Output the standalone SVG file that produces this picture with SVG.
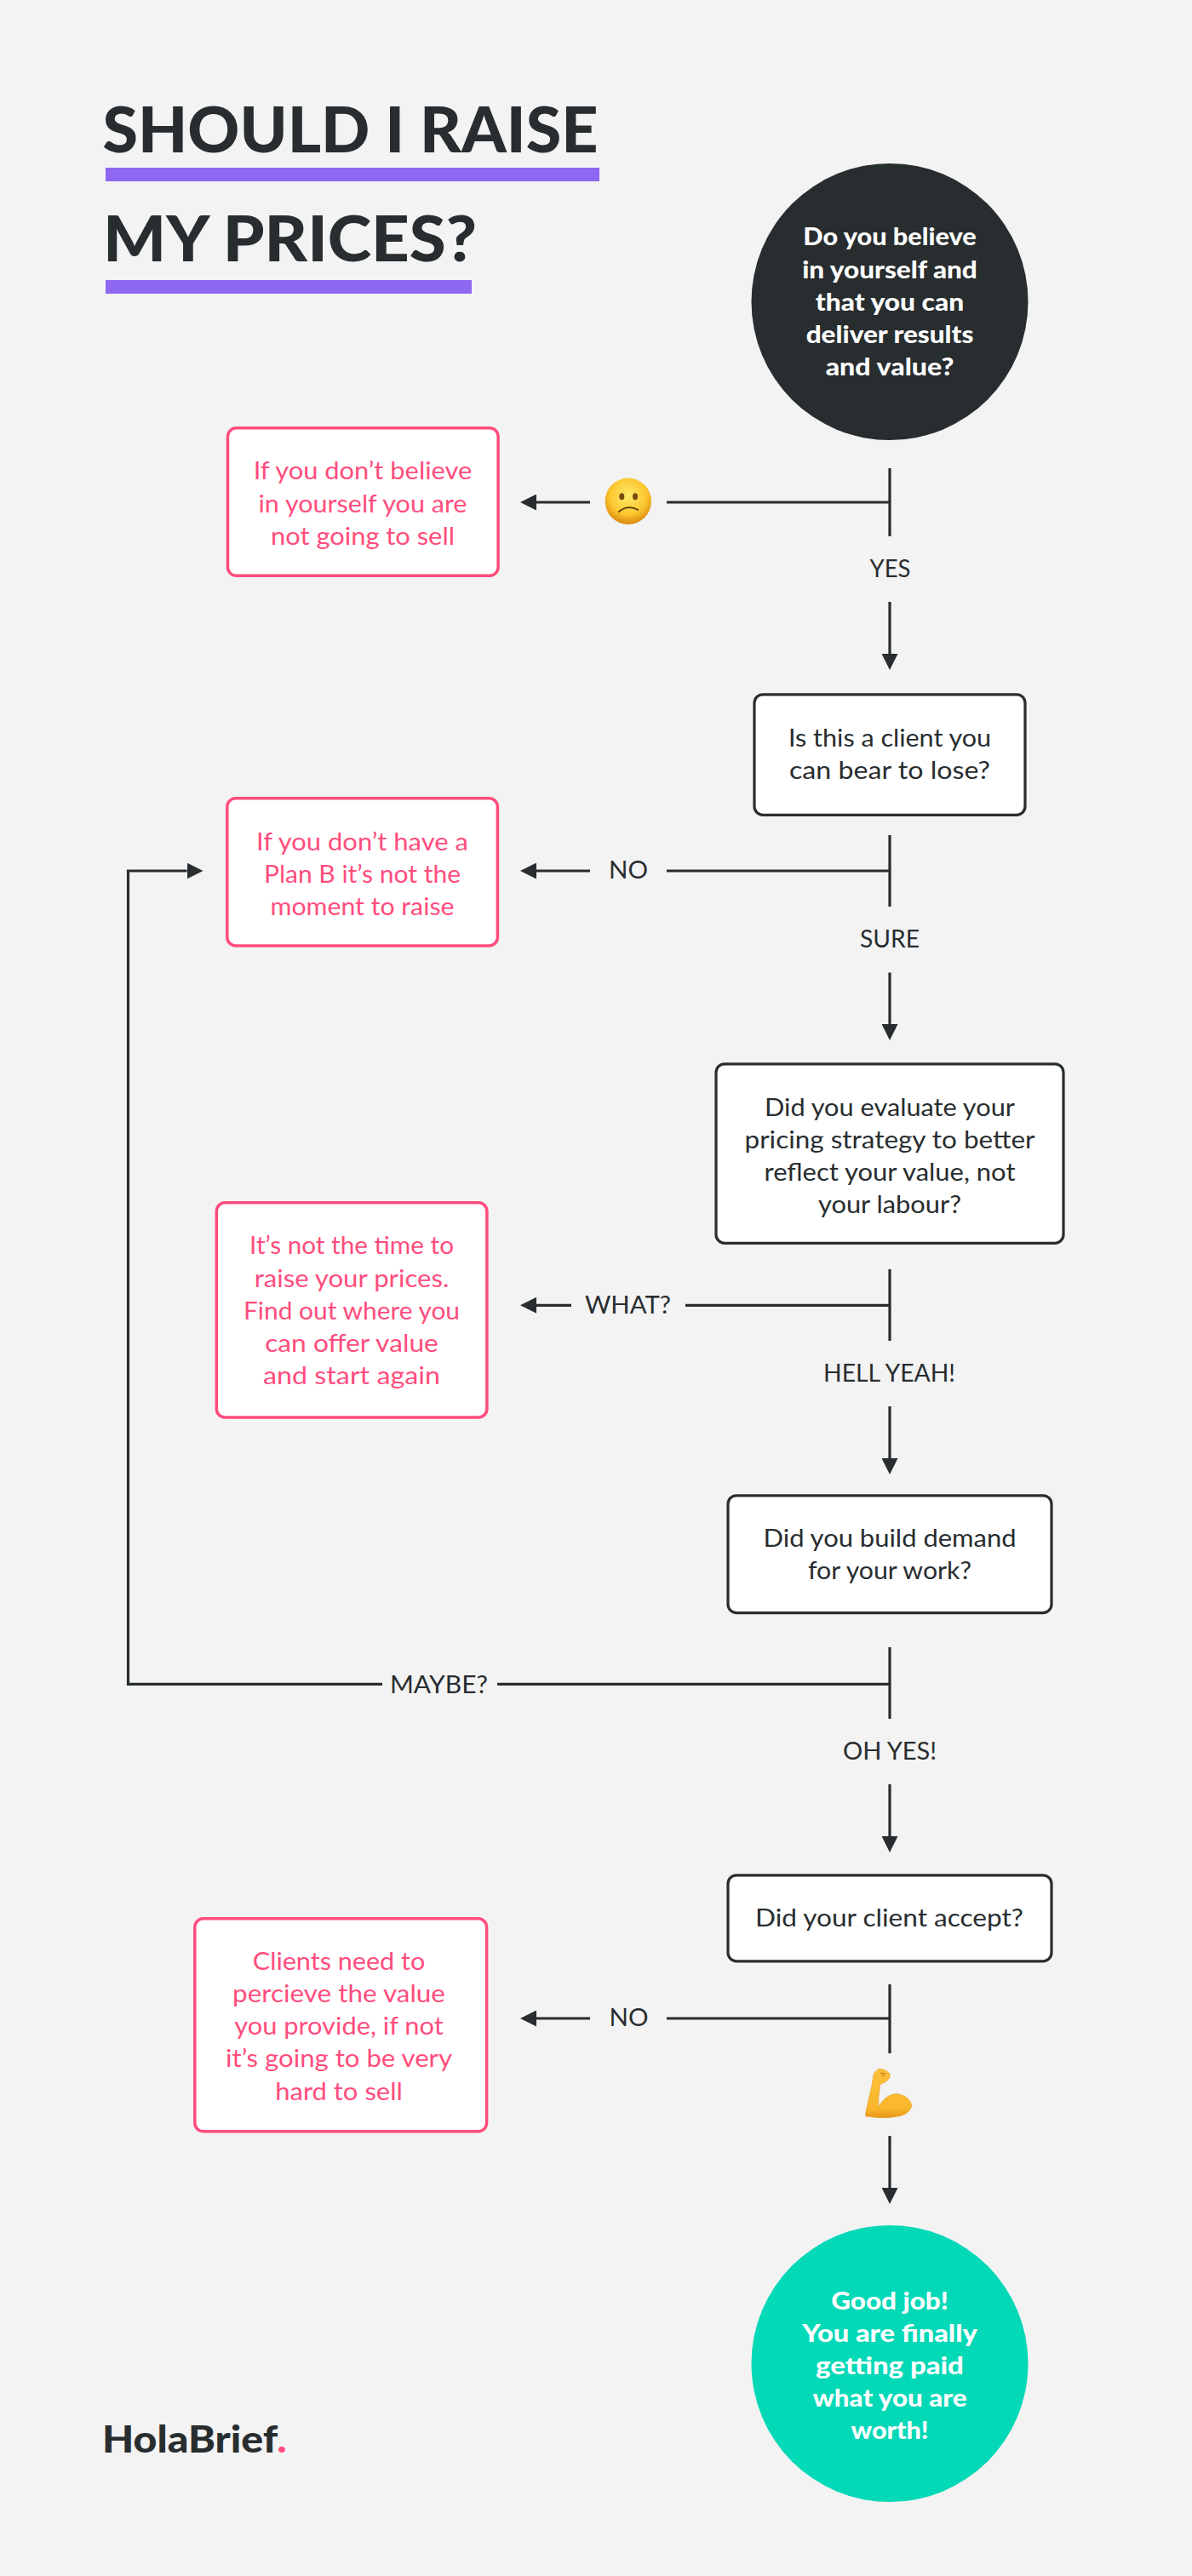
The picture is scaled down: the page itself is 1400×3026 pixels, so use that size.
<svg xmlns="http://www.w3.org/2000/svg" width="1400" height="3026" viewBox="0 0 1400 3026">
<style>
text{font-family:"Lato","Open Sans","Liberation Sans",sans-serif;text-anchor:middle}
.title{font-size:75px;font-weight:900;fill:#282d2f;text-anchor:start}
.logo{font-size:44px;font-weight:900;fill:#282d2f;text-anchor:start}
.dot{fill:#ff4d7d}
.bar{fill:#8e68f2}
.cw{font-size:28px;font-weight:900;fill:#fff}
.q{font-size:28px;fill:#282d2f}
.p{font-size:28px;fill:#ff4d7d}
.l{font-size:28px;fill:#282d2f}
.qb{fill:#fff;stroke:#282d2f;stroke-width:3.2}
.pb{fill:#fff;stroke:#ff4d7d;stroke-width:3.5}
.c line,.c path.w{stroke:#282d2f;stroke-width:3.2;fill:none}
</style>
<defs>
<marker id="ah" markerUnits="userSpaceOnUse" markerWidth="19" markerHeight="19" refX="0" refY="9.5" orient="auto"><path d="M0,0L19,9.5L0,19z" fill="#282d2f"/></marker>
<radialGradient id="faceg" cx="50%" cy="38%" r="62%"><stop offset="0" stop-color="#ffe96a"/><stop offset=".65" stop-color="#fcc62e"/><stop offset="1" stop-color="#d98a10"/></radialGradient>
<linearGradient id="armg" x1="0" y1="0" x2="0" y2="1"><stop offset="0" stop-color="#fdc03a"/><stop offset=".8" stop-color="#fbb72c"/><stop offset="1" stop-color="#e8971a"/></linearGradient>
</defs>
<rect width="1400" height="3026" fill="#f3f3f3"/>
<g id="title">
<text class="title" x="120.5" y="179" textLength="582" lengthAdjust="spacingAndGlyphs">SHOULD I RAISE</text>
<rect class="bar" x="124" y="197" width="580" height="16"/>
<text class="title" x="121" y="306.7" textLength="439" lengthAdjust="spacingAndGlyphs">MY PRICES?</text>
<rect class="bar" x="124" y="329" width="430" height="16"/>
</g>
<g id="connectors" class="c">
<line x1="1045" y1="550" x2="1045" y2="630"/>
<line x1="1045" y1="590" x2="783" y2="590"/>
<line x1="693" y1="590" x2="630" y2="590" marker-end="url(#ah)"/>
<line x1="1045" y1="707" x2="1045" y2="768" marker-end="url(#ah)"/>
<line x1="1045" y1="981" x2="1045" y2="1065"/>
<line x1="1045" y1="1023" x2="783" y2="1023"/>
<line x1="693" y1="1023" x2="630" y2="1023" marker-end="url(#ah)"/>
<line x1="1045" y1="1142.5" x2="1045" y2="1203" marker-end="url(#ah)"/>
<line x1="1045" y1="1491" x2="1045" y2="1575"/>
<line x1="1045" y1="1533.3" x2="805" y2="1533.3"/>
<line x1="671" y1="1533.3" x2="630" y2="1533.3" marker-end="url(#ah)"/>
<line x1="1045" y1="1652" x2="1045" y2="1713" marker-end="url(#ah)"/>
<line x1="1045" y1="1935" x2="1045" y2="2019"/>
<line x1="1045" y1="1978.3" x2="584" y2="1978.3"/>
<path class="w" d="M449,1978.3H150.5V1023H219.5" marker-end="url(#ah)"/>
<line x1="1045" y1="2096" x2="1045" y2="2157" marker-end="url(#ah)"/>
<line x1="1045" y1="2331" x2="1045" y2="2412"/>
<line x1="1045" y1="2371" x2="783" y2="2371"/>
<line x1="693" y1="2371" x2="630" y2="2371" marker-end="url(#ah)"/>
<line x1="1045" y1="2509" x2="1045" y2="2570" marker-end="url(#ah)"/>
</g>
<g id="labels">
<text class="l" x="1045.5" y="678" textLength="48" lengthAdjust="spacingAndGlyphs">YES</text>
<text class="l" x="738" y="1032" textLength="46" lengthAdjust="spacingAndGlyphs">NO</text>
<text class="l" x="1045" y="1112.7" textLength="70" lengthAdjust="spacingAndGlyphs">SURE</text>
<text class="l" x="737.5" y="1542.7" textLength="101" lengthAdjust="spacingAndGlyphs">WHAT?</text>
<text class="l" x="1044.5" y="1622.7" textLength="155" lengthAdjust="spacingAndGlyphs">HELL YEAH!</text>
<text class="l" x="515.5" y="1989" textLength="115" lengthAdjust="spacingAndGlyphs">MAYBE?</text>
<text class="l" x="1045" y="2066.7" textLength="110" lengthAdjust="spacingAndGlyphs">OH YES!</text>
<text class="l" x="738.5" y="2380" textLength="46" lengthAdjust="spacingAndGlyphs">NO</text>
</g>
<g id="start">
<circle cx="1045" cy="354.5" r="162.5" fill="#282d2f"/>
<text class="cw" x="1045" y="288" textLength="203.3" lengthAdjust="spacingAndGlyphs">Do you believe</text>
<text class="cw" x="1045" y="327" textLength="205.7" lengthAdjust="spacingAndGlyphs">in yourself and</text>
<text class="cw" x="1045" y="365" textLength="174.3" lengthAdjust="spacingAndGlyphs">that you can</text>
<text class="cw" x="1045" y="403" textLength="196.7" lengthAdjust="spacingAndGlyphs">deliver results</text>
<text class="cw" x="1045" y="441" textLength="150.7" lengthAdjust="spacingAndGlyphs">and value?</text>
</g>
<g id="emoji-confused">
<circle cx="737.8" cy="588.8" r="27.2" fill="url(#faceg)"/>
<ellipse cx="730.3" cy="583.3" rx="3" ry="4" fill="#7a4a10"/>
<ellipse cx="746" cy="583.3" rx="3" ry="4" fill="#7a4a10"/>
<path d="M726.3,601.7Q737,592 750,599.3" fill="none" stroke="#5a3a10" stroke-width="1.8"/>
</g>
<g id="no-belief">
<rect class="pb" x="267.5" y="502.8" width="317.6" height="173.5" rx="10"/>
<text class="p" x="426" y="563" textLength="256.6" lengthAdjust="spacingAndGlyphs">If you don’t believe</text>
<text class="p" x="426" y="601.7" textLength="245" lengthAdjust="spacingAndGlyphs">in yourself you are</text>
<text class="p" x="426" y="640" textLength="216" lengthAdjust="spacingAndGlyphs">not going to sell</text>
</g>
<g id="client-lose">
<rect class="qb" x="886" y="815.8" width="318" height="141.5" rx="10"/>
<text class="q" x="1045" y="877" textLength="238" lengthAdjust="spacingAndGlyphs">Is this a client you</text>
<text class="q" x="1045" y="914.5" textLength="236" lengthAdjust="spacingAndGlyphs">can bear to lose?</text>
</g>
<g id="no-plan-b">
<rect class="pb" x="266.8" y="937.8" width="317.6" height="173.2" rx="10"/>
<text class="p" x="425.5" y="998.7" textLength="248.8" lengthAdjust="spacingAndGlyphs">If you don’t have a</text>
<text class="p" x="425.5" y="1036.7" textLength="231" lengthAdjust="spacingAndGlyphs">Plan B it’s not the</text>
<text class="p" x="425.5" y="1074.7" textLength="216" lengthAdjust="spacingAndGlyphs">moment to raise</text>
</g>
<g id="pricing-strategy">
<rect class="qb" x="841" y="1249.8" width="408" height="210.5" rx="10"/>
<text class="q" x="1045" y="1310.7" textLength="294" lengthAdjust="spacingAndGlyphs">Did you evaluate your</text>
<text class="q" x="1045" y="1348.7" textLength="341" lengthAdjust="spacingAndGlyphs">pricing strategy to better</text>
<text class="q" x="1045" y="1386.7" textLength="295" lengthAdjust="spacingAndGlyphs">reflect your value, not</text>
<text class="q" x="1045" y="1424.7" textLength="168" lengthAdjust="spacingAndGlyphs">your labour?</text>
</g>
<g id="not-the-time">
<rect class="pb" x="254.3" y="1412.8" width="317.6" height="252.2" rx="10"/>
<text class="p" x="413" y="1473.3" textLength="240" lengthAdjust="spacingAndGlyphs">It’s not the time to</text>
<text class="p" x="413" y="1511.7" textLength="228.6" lengthAdjust="spacingAndGlyphs">raise your prices.</text>
<text class="p" x="413" y="1549.7" textLength="254" lengthAdjust="spacingAndGlyphs">Find out where you</text>
<text class="p" x="413" y="1587.7" textLength="203.7" lengthAdjust="spacingAndGlyphs">can offer value</text>
<text class="p" x="413" y="1625.7" textLength="207.8" lengthAdjust="spacingAndGlyphs">and start again</text>
</g>
<g id="build-demand">
<rect class="qb" x="855" y="1756.8" width="380" height="137.8" rx="10"/>
<text class="q" x="1045" y="1817.3" textLength="297" lengthAdjust="spacingAndGlyphs">Did you build demand</text>
<text class="q" x="1045" y="1855.3" textLength="192" lengthAdjust="spacingAndGlyphs">for your work?</text>
</g>
<g id="client-accept">
<rect class="qb" x="855" y="2202.8" width="380" height="101" rx="10"/>
<text class="q" x="1044.5" y="2263" textLength="315" lengthAdjust="spacingAndGlyphs">Did your client accept?</text>
</g>
<g id="perceive-value">
<rect class="pb" x="228.8" y="2253.8" width="342.8" height="250" rx="10"/>
<text class="p" x="398" y="2314" textLength="202.5" lengthAdjust="spacingAndGlyphs">Clients need to</text>
<text class="p" x="398" y="2352" textLength="249.8" lengthAdjust="spacingAndGlyphs">percieve the value</text>
<text class="p" x="398" y="2390" textLength="245.4" lengthAdjust="spacingAndGlyphs">you provide, if not</text>
<text class="p" x="398" y="2428" textLength="266" lengthAdjust="spacingAndGlyphs">it’s going to be very</text>
<text class="p" x="398" y="2466.7" textLength="149.6" lengthAdjust="spacingAndGlyphs">hard to sell</text>
</g>
<g id="emoji-flex">
<path d="M1026,2437Q1027,2433 1033,2430Q1041,2431 1045,2436Q1046,2440 1043,2443Q1039,2447 1034,2448L1033,2455Q1031,2466 1032,2475Q1040,2460 1053,2459.5Q1067,2461 1071,2473Q1069,2482 1058,2485.5Q1044,2488.5 1030,2487.5L1017,2486Q1016,2484 1018,2476Q1021,2462 1024,2450Q1025,2443 1026,2437z" fill="url(#armg)" stroke="#e39a1c" stroke-width=".6"/>
<path d="M1034,2435L1040,2436M1036,2439L1039,2437" stroke="#b8701a" stroke-width="1" fill="none"/>
</g>
<g id="end">
<circle cx="1045" cy="2776.5" r="162.5" fill="#03d8b7"/>
<text class="cw" x="1045" y="2713" textLength="137.6" lengthAdjust="spacingAndGlyphs">Good job!</text>
<text class="cw" x="1045" y="2751" textLength="205.6" lengthAdjust="spacingAndGlyphs">You are finally</text>
<text class="cw" x="1045" y="2789" textLength="173.8" lengthAdjust="spacingAndGlyphs">getting paid</text>
<text class="cw" x="1045" y="2826.7" textLength="181" lengthAdjust="spacingAndGlyphs">what you are</text>
<text class="cw" x="1045" y="2865" textLength="91" lengthAdjust="spacingAndGlyphs">worth!</text>
</g>
<g id="logo">
<text class="logo" x="120" y="2881" textLength="216.7" lengthAdjust="spacingAndGlyphs">HolaBrief<tspan class="dot">.</tspan></text>
</g>
</svg>
